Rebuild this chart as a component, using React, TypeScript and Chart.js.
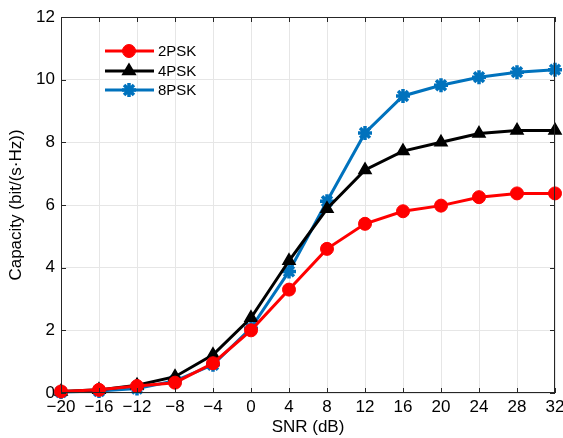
import React, { useEffect, useRef } from "react";
import { Chart, registerables } from "chart.js";

Chart.register(...registerables);

const snr = [-20, -16, -12, -8, -4, 0, 4, 8, 12, 16, 20, 24, 28, 32];
const psk2 = [0.05, 0.1, 0.22, 0.33, 0.95, 2.0, 3.3, 4.6, 5.4, 5.8, 5.98, 6.25, 6.37, 6.37];
const psk4 = [0.05, 0.1, 0.25, 0.52, 1.22, 2.4, 4.22, 5.88, 7.12, 7.72, 8.0, 8.28, 8.38, 8.38];
const psk8 = [0.03, 0.06, 0.14, 0.39, 0.9, 2.07, 3.88, 6.12, 8.3, 9.48, 9.82, 10.08, 10.24, 10.32];
const seriesNames = ["2PSK", "4PSK", "8PSK"];
const xTicks = [-20, -16, -12, -8, -4, 0, 4, 8, 12, 16, 20, 24, 28, 32];
const yTicks = [0, 2, 4, 6, 8, 10, 12];

const FONT = "'Liberation Sans', Arial, sans-serif";

function drawMarker(ctx: CanvasRenderingContext2D, style: string, x: number, y: number, r: number) {
  ctx.beginPath();
  if (style === "circle") {
    ctx.arc(x, y, r, 0, Math.PI * 2);
    ctx.fill();
    ctx.stroke();
  } else if (style === "triangle") {
    const h = r * 1.5;
    ctx.moveTo(x, y - r);
    ctx.lineTo(x - r * 0.9, y + h - r);
    ctx.lineTo(x + r * 0.9, y + h - r);
    ctx.closePath();
    ctx.fill();
    ctx.stroke();
  } else {
    for (let k = 0; k < 4; k++) {
      const ang = (k * Math.PI) / 4;
      ctx.moveTo(x - Math.cos(ang) * r, y - Math.sin(ang) * r);
      ctx.lineTo(x + Math.cos(ang) * r, y + Math.sin(ang) * r);
    }
    ctx.stroke();
  }
}

const framePlugin = {
  id: "frame",
  afterDraw(chart: any) {
    const { ctx, chartArea: a, scales } = chart;
    ctx.save();
    ctx.strokeStyle = "#262626";
    ctx.lineWidth = 1;
    ctx.strokeRect(a.left + 0.5, a.top + 0.5, a.right - a.left - 1, a.bottom - a.top - 1);
    ctx.beginPath();
    const tl = 5;
    xTicks.forEach((v) => {
      const x = Math.round(scales.x.getPixelForValue(v)) + 0.5;
      ctx.moveTo(x, a.bottom);
      ctx.lineTo(x, a.bottom - tl);
      ctx.moveTo(x, a.top);
      ctx.lineTo(x, a.top + tl);
    });
    yTicks.forEach((v) => {
      const y = Math.round(scales.y.getPixelForValue(v)) + 0.5;
      ctx.moveTo(a.left, y);
      ctx.lineTo(a.left + tl, y);
      ctx.moveTo(a.right, y);
      ctx.lineTo(a.right - tl, y);
    });
    ctx.stroke();

    const rows = [51, 71, 90];
    chart.data.datasets.forEach((ds: any, i: number) => {
      const y = rows[i];
      ctx.strokeStyle = ds.borderColor;
      ctx.lineWidth = 3;
      ctx.beginPath();
      ctx.moveTo(105, y);
      ctx.lineTo(154, y);
      ctx.stroke();
      ctx.fillStyle = ds.pointBackgroundColor;
      ctx.strokeStyle = ds.pointBorderColor;
      ctx.lineWidth = ds.pointBorderWidth;
      drawMarker(ctx, ds.pointStyle, 129, y, ds.pointRadius);
      ctx.fillStyle = "#000";
      ctx.font = `15px ${FONT}`;
      ctx.textBaseline = "middle";
      ctx.textAlign = "left";
      ctx.fillText(seriesNames[i], 158, y + 1);
    });
    ctx.restore();
  },
};

export default function App() {
  const ref = useRef<HTMLCanvasElement>(null);
  useEffect(() => {
    if (!ref.current) return;
    const mk = (data: number[], color: string, style: string, radius: number, bw: number) => ({
      data: snr.map((x, i) => ({ x, y: data[i] })),
      borderColor: color,
      backgroundColor: color,
      pointBackgroundColor: color,
      pointBorderColor: color,
      pointStyle: style,
      pointRadius: radius,
      pointBorderWidth: bw,
      borderWidth: 3,
      tension: 0,
      clip: 12,
    });
    const chart = new Chart(ref.current, {
      type: "line",
      data: {
        datasets: [
          { label: seriesNames[0], ...mk(psk2, "#ff0000", "circle", 6.5, 1) },
          { label: seriesNames[1], ...mk(psk4, "#000000", "triangle", 7, 1.5) },
          { label: seriesNames[2], ...mk(psk8, "#0072BD", "star", 7, 3.5) },
        ],
      } as any,
      options: {
        animation: false,
        responsive: false,
        devicePixelRatio: 1,
        layout: { autoPadding: false, padding: { left: 0, right: 8, top: 17, bottom: 0 } },
        plugins: { legend: { display: false }, tooltip: { enabled: false } },
        scales: {
          x: {
            type: "linear",
            min: -20,
            max: 32,
            afterBuildTicks: (s: any) => {
              s.ticks = xTicks.map((v) => ({ value: v }));
            },
            afterFit: (s: any) => {
              s.height = 45;
              s.paddingLeft = 0;
              s.paddingRight = 0;
            },
            ticks: {
              color: "#000",
              font: { family: FONT, size: 17 },
              padding: 4,
              maxRotation: 0,
              autoSkip: false,
              callback: (v: any) => String(v).replace("-", "\u2212"),
            },
            grid: { color: "#e6e6e6", drawTicks: false, lineWidth: 1 },
            border: { display: false },
            title: {
              display: true,
              text: "SNR (dB)",
              color: "#000",
              font: { family: FONT, size: 17 },
              padding: { top: 2, bottom: 0 },
            },
          },
          y: {
            type: "linear",
            min: 0,
            max: 12,
            afterBuildTicks: (s: any) => {
              s.ticks = yTicks.map((v) => ({ value: v }));
            },
            afterFit: (s: any) => {
              s.width = 61;
              s.paddingTop = 0;
              s.paddingBottom = 0;
            },
            ticks: {
              color: "#000",
              font: { family: FONT, size: 17 },
              padding: 6,
              autoSkip: false,
            },
            grid: { color: "#e6e6e6", drawTicks: false, lineWidth: 1 },
            border: { display: false },
            title: {
              display: true,
              text: "Capacity (bit/(s\u00b7Hz))",
              color: "#000",
              font: { family: FONT, size: 17 },
              padding: { top: 6, bottom: 0 },
            },
          },
        },
      } as any,
      plugins: [framePlugin],
    });
    return () => chart.destroy();
  }, []);
  return (
    <div style={{ position: "fixed", left: 0, top: 0, width: 563, height: 438, background: "#fff" }}>
      <canvas ref={ref} width={563} height={438} style={{ width: 563, height: 438, display: "block" }} />
    </div>
  );
}
